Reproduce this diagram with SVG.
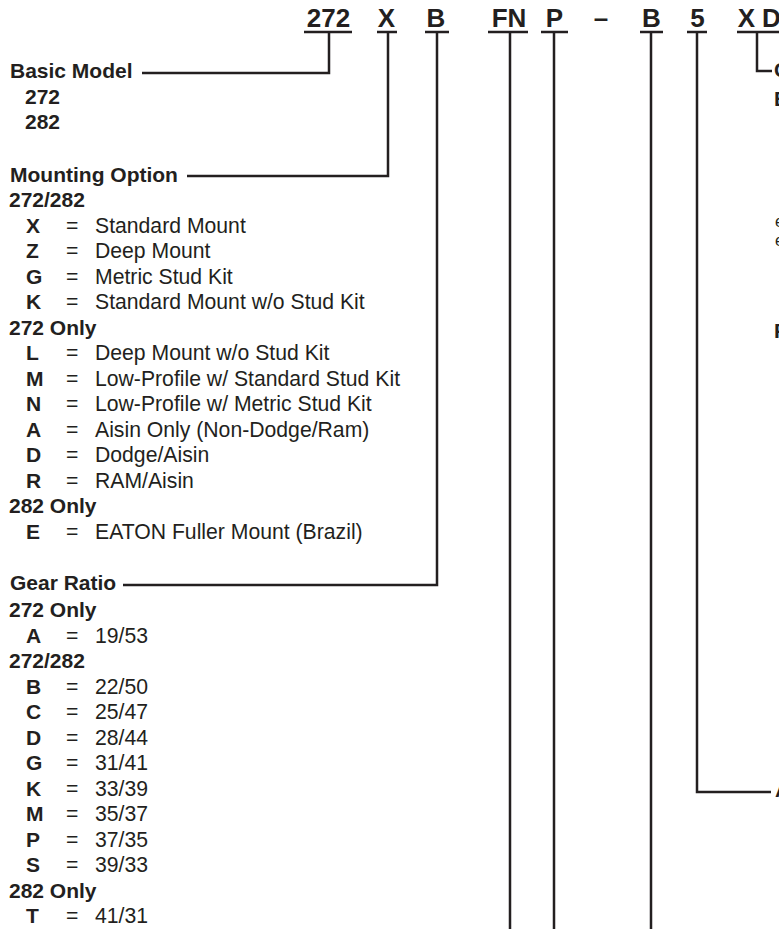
<svg xmlns="http://www.w3.org/2000/svg" width="779" height="929" viewBox="0 0 779 929">
<style>
text{fill:#231f20;font-family:"Liberation Sans",Arial,Helvetica,sans-serif}
.code{font-size:26px;font-weight:bold;text-anchor:middle}
.h{font-size:21px;font-weight:bold}
.k{font-size:21px;font-weight:bold}
.t{font-size:21.2px}
.s{font-size:16px}
.ln{stroke:#231f20;stroke-width:2.5;fill:none;stroke-linecap:butt}
</style>
<rect width="779" height="929" fill="#fff"/>
<g id="code">
<text class="code" x="328.5" y="27">272</text>
<text class="code" x="386.5" y="27">X</text>
<text class="code" x="436" y="27">B</text>
<text class="code" x="509" y="27">FN</text>
<text class="code" x="554.5" y="27">P</text>
<text class="code" x="601" y="27">–</text>
<text class="code" x="651.5" y="27">B</text>
<text class="code" x="697.5" y="27">5</text>
<text class="code" x="746.5" y="27">X</text>
<text class="code" style="text-anchor:start" x="762" y="27">D</text>
</g>
<g id="connectors">
<path class="ln" d="M304 32H352M377 32H397M425 32H449M488 32H528M541 32H568M640 32H663M687 32H707M737 32H779"/>
<path class="ln" d="M142 73H329V32"/>
<path class="ln" d="M187 176H388V32"/>
<path class="ln" d="M123 585H437V32"/>
<path class="ln" d="M510 32V929M554 32V929M651 32V929"/>
<path class="ln" d="M697 32V792H771"/>
<path class="ln" d="M757 32V71H772"/>
</g>
<g id="basic-model">
<text class="h" x="10" y="78">Basic Model</text>
<text class="k" x="25" y="104">272</text>
<text class="k" x="25" y="129">282</text>
</g>
<g id="mounting-option">
<text class="h" x="10" y="182">Mounting Option</text>
<text class="k" x="9" y="207">272/282</text>
<text class="k" x="26" y="232.5">X</text><text class="t" x="66" y="232.5">=</text><text class="t" x="95" y="232.5">Standard Mount</text>
<text class="k" x="26" y="258">Z</text><text class="t" x="66" y="258">=</text><text class="t" x="95" y="258">Deep Mount</text>
<text class="k" x="26" y="283.5">G</text><text class="t" x="66" y="283.5">=</text><text class="t" x="95" y="283.5">Metric Stud Kit</text>
<text class="k" x="26" y="309">K</text><text class="t" x="66" y="309">=</text><text class="t" x="95" y="309">Standard Mount w/o Stud Kit</text>
<text class="k" x="9" y="334.5">272 Only</text>
<text class="k" x="26" y="360">L</text><text class="t" x="66" y="360">=</text><text class="t" x="95" y="360">Deep Mount w/o Stud Kit</text>
<text class="k" x="26" y="385.5">M</text><text class="t" x="66" y="385.5">=</text><text class="t" x="95" y="385.5">Low-Profile w/ Standard Stud Kit</text>
<text class="k" x="26" y="411">N</text><text class="t" x="66" y="411">=</text><text class="t" x="95" y="411">Low-Profile w/ Metric Stud Kit</text>
<text class="k" x="26" y="436.5">A</text><text class="t" x="66" y="436.5">=</text><text class="t" x="95" y="436.5">Aisin Only (Non-Dodge/Ram)</text>
<text class="k" x="26" y="462">D</text><text class="t" x="66" y="462">=</text><text class="t" x="95" y="462">Dodge/Aisin</text>
<text class="k" x="26" y="487.5">R</text><text class="t" x="66" y="487.5">=</text><text class="t" x="95" y="487.5">RAM/Aisin</text>
<text class="k" x="9" y="513">282 Only</text>
<text class="k" x="26" y="538.5">E</text><text class="t" x="66" y="538.5">=</text><text class="t" x="95" y="538.5">EATON Fuller Mount (Brazil)</text>
</g>
<g id="gear-ratio">
<text class="h" x="10" y="590">Gear Ratio</text>
<text class="k" x="9" y="617">272 Only</text>
<text class="k" x="26" y="642.5">A</text><text class="t" x="66" y="642.5">=</text><text class="t" x="95" y="642.5">19/53</text>
<text class="k" x="9" y="668">272/282</text>
<text class="k" x="26" y="693.5">B</text><text class="t" x="66" y="693.5">=</text><text class="t" x="95" y="693.5">22/50</text>
<text class="k" x="26" y="719">C</text><text class="t" x="66" y="719">=</text><text class="t" x="95" y="719">25/47</text>
<text class="k" x="26" y="744.5">D</text><text class="t" x="66" y="744.5">=</text><text class="t" x="95" y="744.5">28/44</text>
<text class="k" x="26" y="770">G</text><text class="t" x="66" y="770">=</text><text class="t" x="95" y="770">31/41</text>
<text class="k" x="26" y="795.5">K</text><text class="t" x="66" y="795.5">=</text><text class="t" x="95" y="795.5">33/39</text>
<text class="k" x="26" y="821">M</text><text class="t" x="66" y="821">=</text><text class="t" x="95" y="821">35/37</text>
<text class="k" x="26" y="846.5">P</text><text class="t" x="66" y="846.5">=</text><text class="t" x="95" y="846.5">37/35</text>
<text class="k" x="26" y="872">S</text><text class="t" x="66" y="872">=</text><text class="t" x="95" y="872">39/33</text>
<text class="k" x="9" y="897.5">282 Only</text>
<text class="k" x="26" y="923">T</text><text class="t" x="66" y="923">=</text><text class="t" x="95" y="923">41/31</text>
</g>
<g id="right-column">
<text class="h" x="774" y="77">C</text>
<text class="k" x="774" y="106">B</text>
<text class="s" x="775" y="227">e</text>
<text class="s" x="775" y="246">e</text>
<text class="k" x="774" y="338">P</text>
<text class="h" x="775" y="797">A</text>
</g>
</svg>
